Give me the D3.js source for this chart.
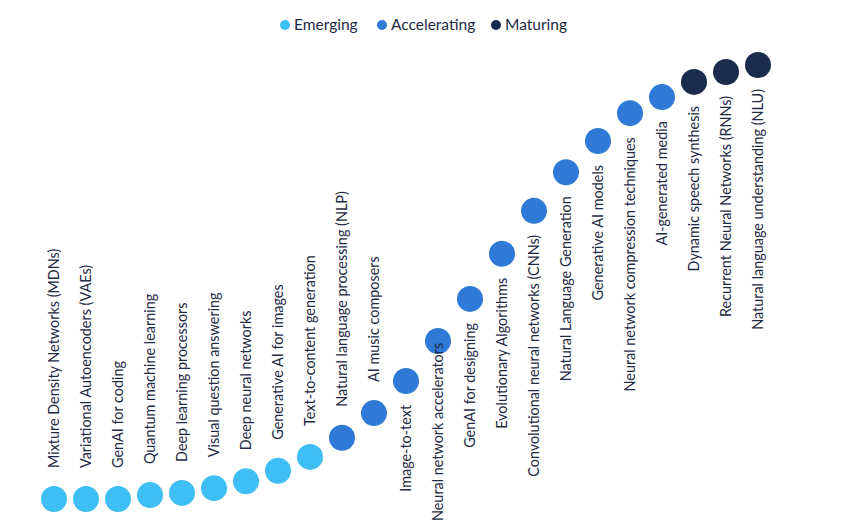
<!DOCTYPE html>
<html>
<head>
<meta charset="utf-8">
<script src="https://cdn.jsdelivr.net/npm/d3@7"></script>
<style>
  html, body { margin: 0; padding: 0; background: #ffffff; }
  svg { display: block; }
</style>
</head>
<body>
<svg id="chart" width="844" height="525"></svg>
<script>
// ---- DATA ----
const categories = [
  "Mixture Density Networks (MDNs)",
  "Variational Autoencoders (VAEs)",
  "GenAI for coding",
  "Quantum machine learning",
  "Deep learning processors",
  "Visual question answering",
  "Deep neural networks",
  "Generative AI for images",
  "Text-to-content generation",
  "Natural language processing (NLP)",
  "AI music composers",
  "Image-to-text",
  "Neural network accelerators",
  "GenAI for designing",
  "Evolutionary Algorithms",
  "Convolutional neural networks (CNNs)",
  "Natural Language Generation",
  "Generative AI models",
  "Neural network compression techniques",
  "AI-generated media",
  "Dynamic speech synthesis",
  "Recurrent Neural Networks (RNNs)",
  "Natural language understanding (NLU)"
];
const maturityValues = [0, 0, 0, 0.9, 1.4, 2.5, 4.1, 6.5, 9.7, 14.1, 19.8, 27.2, 36.4, 46.1, 56.5, 66.4, 75.3, 82.5, 88.9, 92.6, 96.1, 98.4, 100];
const stages = [
  "Emerging","Emerging","Emerging","Emerging","Emerging","Emerging","Emerging","Emerging","Emerging",
  "Accelerating","Accelerating","Accelerating","Accelerating","Accelerating","Accelerating","Accelerating",
  "Accelerating","Accelerating","Accelerating","Accelerating",
  "Maturing","Maturing","Maturing"
];
const stageNames = ["Emerging", "Accelerating", "Maturing"];
const stageColors = ["#3DBEF4", "#2E7AD6", "#1B2B4D"];

// ---- CHART ----
const W = 844, H = 525;
const svg = d3.select("#chart");
const font = "Lato, 'Open Sans', sans-serif";
const textColor = "#1E2A45";

const x = d3.scalePoint().domain(categories).range([54, 758]);
const y = d3.scaleLinear().domain([0, 100]).range([499, 65]);
const color = d3.scaleOrdinal().domain(stageNames).range(stageColors);

const data = categories.map((c, i) => ({ cat: c, v: maturityValues[i], stage: stages[i], i }));

svg.append("g").selectAll("circle").data(data).join("circle")
  .attr("cx", d => x(d.cat))
  .attr("cy", d => y(d.v))
  .attr("r", 13)
  .attr("fill", d => color(d.stage));

// labels: above the dot for the lower part of the curve, below it for the rest
const labelSize = 14.4;
const labels = svg.append("g").selectAll("text").data(data).join("text")
  .attr("font-family", font)
  .attr("font-size", labelSize)
  .attr("fill", textColor)
  .attr("dy", "0.35em")
  .text(d => d.cat);

labels.each(function(d) {
  const t = d3.select(this);
  const len = this.getComputedTextLength();
  const cx = x(d.cat), cy = y(d.v);
  const above = d.i <= 10;
  if (above) {
    t.attr("text-anchor", "start")
     .attr("transform", `translate(${cx},${cy - 31}) rotate(-90)`);
  } else {
    let end = cy + 24;
    if (end + len > H - 4) end = H - 4 - len;
    t.attr("text-anchor", "end")
     .attr("transform", `translate(${cx},${end}) rotate(-90)`);
  }
});

// legend
const legendX = [285, 382, 496];
const legend = svg.append("g").selectAll("g").data(stageNames).join("g")
  .attr("transform", (d, i) => `translate(${legendX[i]},25)`);
legend.append("circle").attr("r", 5).attr("fill", d => color(d));
legend.append("text")
  .attr("x", 9)
  .attr("dy", "0.35em")
  .attr("font-family", font)
  .attr("font-size", 15.5)
  .attr("fill", textColor)
  .text(d => d);
</script>
</body>
</html>
